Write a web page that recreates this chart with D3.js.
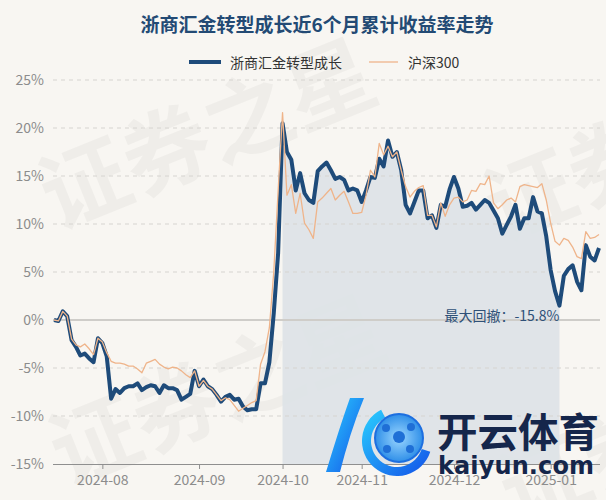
<!DOCTYPE html>
<html>
<head>
<meta charset="utf-8">
<script src="https://cdn.jsdelivr.net/npm/d3@7"></script>
<style>
  body { margin: 0; background: #f8f6f2; }
  svg { display: block; font-family: "Noto Sans CJK SC", "Noto Sans", sans-serif; }
</style>
</head>
<body>
<svg id="chart" width="606" height="500"></svg>
<script>
// 累计收益率（%），按交易日排列
const fundValues = [
  0.0, -0.1, 0.9, 0.4, -2.1, -2.8, -3.7, -3.5, -4.0, -4.4,
  -1.9, -2.4, -3.8, -8.2, -7.2, -7.6, -7.1, -6.9, -6.9, -6.6,
  -7.3, -7.0, -6.8, -6.9, -7.6, -6.8, -7.1, -7.1, -7.3, -8.3,
  -8.0, -7.7, -5.3, -6.9, -6.2, -6.9, -7.2, -7.8, -8.5, -8.0,
  -7.8, -8.3, -8.2, -9.0, -9.4, -9.3, -9.3, -6.6, -6.6, -4.4,
  0.7, 7.0, 20.5, 17.5, 16.7, 13.5, 15.3, 13.2, 12.5, 12.2,
  15.5, 16.0, 16.4, 15.6, 14.7, 14.9, 14.6, 13.5, 13.7, 13.5,
  12.3, 13.5, 14.9, 14.8, 16.8, 16.0, 18.7, 17.0, 17.5, 15.6,
  12.0, 11.1, 12.3, 13.5, 13.5, 10.6, 10.9, 9.6, 12.0, 11.8,
  13.6, 14.9, 13.7, 11.8, 11.9, 12.2, 11.5, 12.0, 12.5, 12.2,
  11.4, 10.6, 9.0, 9.9, 10.8, 12.0, 9.5, 10.6, 10.6, 12.8,
  11.3, 11.1, 8.7, 5.2, 3.0, 1.5, 4.6, 5.3, 5.7, 4.0,
  3.1, 7.8, 6.6, 6.2, 7.5
];
const csiValues = [
  0.0, -0.1, 0.9, 0.4, -2.0, -2.6, -2.8, -2.5, -3.0, -3.6,
  -1.9, -2.3, -3.4, -4.3, -4.5, -4.5, -4.6, -4.8, -4.8, -5.1,
  -5.5, -4.5, -4.3, -4.1, -4.6, -4.9, -5.1, -4.9, -5.0, -5.3,
  -5.7, -6.0, -5.3, -6.9, -6.3, -6.9, -7.2, -7.8, -8.4, -8.1,
  -8.3, -8.9, -9.5, -9.2, -8.9, -8.6, -8.4, -4.6, -3.3, -0.8,
  5.0, 13.5, 21.6, 13.0, 14.1, 11.1, 13.2, 10.1, 9.4, 8.5,
  12.3, 12.7, 13.2, 13.7, 12.5, 13.0, 13.4, 12.3, 11.1, 11.1,
  11.2, 13.0, 15.6, 14.9, 18.4, 17.2, 18.1, 17.0, 17.5, 15.6,
  13.9, 12.8, 13.4, 13.8, 14.0, 10.9, 10.9, 9.7, 12.2, 10.8,
  12.0, 12.7, 12.8, 12.3, 12.5, 13.5, 13.4, 14.2, 14.1, 15.0,
  12.2, 11.6, 12.0, 12.5, 12.7, 12.3, 13.9, 14.1, 14.0, 13.9,
  13.8, 14.2, 12.5, 10.1, 8.2, 7.8, 8.5, 8.3, 7.6, 6.6,
  6.4, 9.2, 8.5, 8.6, 8.9
];
const seriesNames = ['浙商汇金转型成长', '沪深300'];
const yTicks = [-15, -10, -5, 0, 5, 10, 15, 20, 25];
const monthLabels = ['2024-08', '2024-09', '2024-10', '2024-11', '2024-12', '2025-01'];
const monthStartIdx = [11, 33, 52, 70, 91, 113];   // 每月首个交易日的序号

const W = 606, H = 500;
const plotLeft = 54, plotRight = 599, plotTop = 80, plotBottom = 464;
const fundColor = '#1e4b7a', csiColor = '#efb48a';

const svg = d3.select('#chart');
svg.append('rect').attr('width', W).attr('height', H).attr('fill', '#f8f6f2');

// watermark
const wm = svg.append('g')
  .attr('fill', '#000').attr('fill-opacity', 0.035)
  .attr('font-size', 88).attr('font-weight', 'bold');
[[205, 128], [215, 385], [650, 140], [665, 425]].forEach(([cx, cy]) => {
  wm.append('text')
    .attr('transform', `translate(${cx},${cy}) rotate(-22)`)
    .attr('text-anchor', 'middle').attr('dominant-baseline', 'central')
    .text('证券之星');
});

const x = d3.scaleLinear().domain([0, fundValues.length - 1]).range([plotLeft, plotRight]);
const y = d3.scaleLinear().domain([-15, 25]).range([plotBottom, plotTop]);

// max drawdown of the fund
let peak = 0, maxDD = 0, ddPeak = 0, ddTrough = 0;
fundValues.forEach((v, i) => {
  if (v > fundValues[peak]) peak = i;
  const dd = (1 + v / 100) / (1 + fundValues[peak] / 100) - 1;
  if (dd < maxDD) { maxDD = dd; ddPeak = peak; ddTrough = i; }
});

const shade = d3.area()
  .x(i => x(i)).y0(plotBottom).y1(i => y(fundValues[i]));
svg.append('path')
  .datum(d3.range(ddPeak, ddTrough + 1))
  .attr('d', shade)
  .attr('fill', '#dde2e7').attr('fill-opacity', 0.9);

// grid
svg.append('g').selectAll('line')
  .data(yTicks.filter(d => d !== -15))
  .join('line')
  .attr('x1', plotLeft - 1).attr('x2', plotRight + 1)
  .attr('y1', d => y(d)).attr('y2', d => y(d))
  .attr('stroke', d => d === 0 ? '#cfcdc9' : '#d6d4d0')
  .attr('stroke-width', d => d === 0 ? 2 : 1)
  .attr('stroke-dasharray', d => d === 0 ? null : '4,4');

// y axis
const yAxis = svg.append('g')
  .attr('transform', `translate(${plotLeft},0)`)
  .call(d3.axisLeft(y).tickValues(yTicks).tickSize(0).tickPadding(10).tickFormat(d => d + '%'));
yAxis.select('.domain').remove();
yAxis.selectAll('text')
  .attr('fill', '#8c8c8c').attr('font-size', 14)
  .style('font-family', '"Noto Sans CJK SC", "Noto Sans", sans-serif');

// x axis
const xAxis = svg.append('g')
  .attr('transform', `translate(0,${plotBottom})`)
  .call(d3.axisBottom(x).tickValues(monthStartIdx).tickSizeInner(5).tickSizeOuter(0).tickPadding(6)
    .tickFormat((d, i) => monthLabels[i]));
xAxis.select('.domain').attr('stroke', '#8f8f8f').attr('d', `M${plotLeft - 1},0.5H${plotRight + 1}`);
xAxis.selectAll('line').attr('stroke', '#8f8f8f');
xAxis.selectAll('text')
  .attr('fill', '#8c8c8c').attr('font-size', 14)
  .style('font-family', '"Noto Sans CJK SC", "Noto Sans", sans-serif');

// lines
const line = d3.line().x((d, i) => x(i)).y(d => y(d));
svg.append('path').datum(fundValues).attr('d', line)
  .attr('fill', 'none').attr('stroke', fundColor)
  .attr('stroke-width', 4).attr('stroke-linejoin', 'round');
svg.append('path').datum(csiValues).attr('d', line)
  .attr('fill', 'none').attr('stroke', csiColor)
  .attr('stroke-width', 1.3).attr('stroke-linejoin', 'round');

// drawdown label
svg.append('text')
  .attr('x', x(ddTrough)).attr('y', 315)
  .attr('text-anchor', 'end').attr('dominant-baseline', 'central')
  .attr('font-size', 14).attr('fill', '#2f5178')
  .text('最大回撤：' + (maxDD * 100).toFixed(1) + '%');

// title
svg.append('text')
  .attr('x', 317).attr('y', 23)
  .attr('text-anchor', 'middle').attr('dominant-baseline', 'central')
  .attr('font-size', 19).attr('font-weight', 'bold').attr('fill', '#234a74')
  .text('浙商汇金转型成长近6个月累计收益率走势');

// legend
const legend = svg.append('g').attr('font-size', 14).attr('fill', '#333');
legend.append('line').attr('x1', 189).attr('x2', 221).attr('y1', 62).attr('y2', 62)
  .attr('stroke', fundColor).attr('stroke-width', 4);
legend.append('text').attr('x', 230).attr('y', 62).attr('dominant-baseline', 'central').text(seriesNames[0]);
legend.append('line').attr('x1', 369).attr('x2', 398).attr('y1', 62).attr('y2', 62)
  .attr('stroke', csiColor).attr('stroke-width', 1.3);
legend.append('text').attr('x', 408).attr('y', 62).attr('dominant-baseline', 'central').text(seriesNames[1]);

// logo overlay (bottom right)
const defs = svg.append('defs');
const kg = defs.append('linearGradient').attr('id', 'kg')
  .attr('x1', '0%').attr('y1', '0%').attr('x2', '100%').attr('y2', '100%');
kg.append('stop').attr('offset', '0%').attr('stop-color', '#2ad0ff');
kg.append('stop').attr('offset', '100%').attr('stop-color', '#1350e8');
const bg = defs.append('radialGradient').attr('id', 'bg');
bg.append('stop').attr('offset', '0%').attr('stop-color', '#9bd6ff');
bg.append('stop').attr('offset', '100%').attr('stop-color', '#2f8fe8');

const logo = svg.append('g');
logo.append('path')
  .attr('d', 'M350,398 C342,420 334,446 326,472 L340,472 C346,448 354,422 364,398 Z')
  .attr('fill', 'url(#kg)');
logo.append('path')
  .attr('transform', 'translate(397,441)')
  .attr('d', d3.arc().innerRadius(26).outerRadius(35).startAngle(Math.PI * 0.6).endAngle(Math.PI * 1.85)())
  .attr('fill', 'url(#kg)');
logo.append('circle').attr('cx', 399).attr('cy', 438).attr('r', 24)
  .attr('fill', 'url(#bg)').attr('stroke', '#1d6fe0').attr('stroke-width', 2);
[[399, 437, 6], [386, 428, 4], [411, 427, 4], [387, 449, 4], [410, 449, 4]].forEach(([cx, cy, r]) => {
  logo.append('circle').attr('cx', cx).attr('cy', cy).attr('r', r).attr('fill', '#1f6fd6');
});
logo.append('text')
  .attr('x', 437).attr('y', 447).attr('font-size', 40).attr('font-weight', 'bold')
  .attr('fill', '#15264b').attr('textLength', 162).attr('lengthAdjust', 'spacingAndGlyphs')
  .text('开云体育');
logo.append('text')
  .attr('x', 438).attr('y', 474).attr('font-size', 24).attr('font-weight', 'bold')
  .attr('fill', '#15264b').attr('textLength', 156).attr('lengthAdjust', 'spacing')
  .style('font-family', '"DejaVu Sans", sans-serif')
  .text('kaiyun.com');
</script>
</body>
</html>
